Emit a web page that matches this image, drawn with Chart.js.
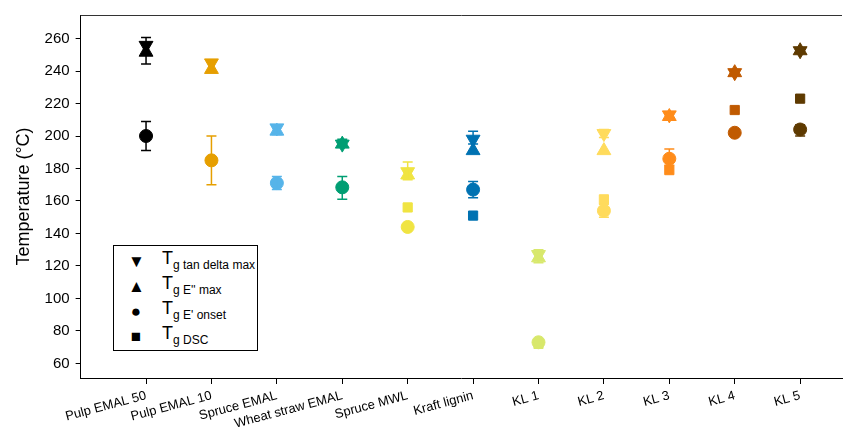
<!DOCTYPE html>
<html><head><meta charset="utf-8">
<script src="https://cdn.jsdelivr.net/npm/chart.js@4"></script>
<style>
body{margin:0;background:#fff;font-family:"Liberation Sans",Arial,sans-serif}
#wrap{position:relative;width:851px;height:429px}
#legend{position:absolute;left:113px;top:245px;width:143px;height:104px;border:1px solid #000;background:#fff;font-size:12px}
#legend div{position:absolute;left:0;height:25px;width:143px}
#legend .m{position:absolute;left:14px;top:4px;width:16px;text-align:center;font-size:17px}
#legend .t{position:absolute;left:48px;top:0;font-size:18px}
#legend sub{font-size:12px}
</style></head>
<body><div id="wrap"><canvas id="c" width="851" height="429"></canvas>
<div id="legend">
<div style="top:2px"><span class="m">▼</span><span class="t">T<sub>g tan delta max</sub></span></div>
<div style="top:27px"><span class="m">▲</span><span class="t">T<sub>g E'' max</sub></span></div>
<div style="top:52px"><span class="m">●</span><span class="t">T<sub>g E' onset</sub></span></div>
<div style="top:77px"><span class="m">■</span><span class="t">T<sub>g DSC</sub></span></div>
</div></div>
<script>
const categories = ["Pulp EMAL 50","Pulp EMAL 10","Spruce EMAL","Wheat straw EMAL","Spruce MWL","Kraft lignin","KL 1","KL 2","KL 3","KL 4","KL 5"];
const colors = ["#000000","#E69F00","#56B4E9","#009E73","#F0E442","#0072B2","#D8E86C","#FFDB5C","#FF8C1A","#C05A00","#5E3A00"];
const tanDelta = [255.8,245,205,195,178,198,127,201.5,213,239,252.5];
const tanDeltaErr = [[244.3,260.6],[240,247],[201,207],[193,198],[173,184],[195,203],[122,130],[199,204],null,null,null];
const eMax = [251.6,241,203,195,176,191,125,191,212,239,252.5];
const eOnset = [200,185,171,168.4,144,167,73,154,186,202,204];
const eOnsetErr = [[191,209],[170,200],[167,175],[161,175],null,[162,172],null,[150,158],[182,192],null,[200,207]];
const dsc = [null,null,null,null,156,151,72,161,179,216,223];
const yTicks = [60,80,100,120,140,160,180,200,220,240,260];

const xs = categories.map((_, i) => i + 1);
const pts = arr => arr.map((v, i) => ({x: xs[i], y: v}));

const errPlugin = {
  id: 'err',
  afterDatasetsDraw(chart) {
    const {ctx, scales: {x, y}} = chart;
    ctx.save(); ctx.lineWidth = 1.5;
    [tanDeltaErr, eOnsetErr].forEach(errs => errs.forEach((e, i) => {
      if (!e) return;
      const px = x.getPixelForValue(xs[i]);
      const a = y.getPixelForValue(e[0]), b = y.getPixelForValue(e[1]);
      ctx.strokeStyle = colors[i];
      ctx.beginPath();
      ctx.moveTo(px, a); ctx.lineTo(px, b);
      ctx.moveTo(px - 5, a); ctx.lineTo(px + 5, a);
      ctx.moveTo(px - 5, b); ctx.lineTo(px + 5, b);
      ctx.stroke();
    }));
    ctx.restore();
  }
};

const ds = (data, style, rot, r) => ({
  data: pts(data), pointStyle: style, rotation: rot, pointRadius: r,
  pointBackgroundColor: colors, pointBorderColor: colors, pointBorderWidth: 1, showLine: false
});

new Chart(document.getElementById('c'), {
  type: 'scatter',
  data: { datasets: [
    ds(dsc, 'rect', 0, 6.5),
    ds(eOnset, 'circle', 0, 6.5),
    ds(eMax, 'triangle', 0, 8),
    ds(tanDelta, 'triangle', 180, 8)
  ]},
  options: {
    responsive: false, animation: false,
    layout: { padding: { top: 10, right: 3, left: 9, bottom: 0 } },
    plugins: { legend: { display: false }, tooltip: { enabled: false } },
    scales: {
      x: {
        type: 'linear', min: 0, max: 11.64,
        afterBuildTicks: s => { s.ticks = xs.map(v => ({value: v})); },
        afterFit: s => { s.height = 51; },
        ticks: { autoSkip: false, callback: v => categories[v - 1], minRotation: 15, maxRotation: 15, color: '#000', font: {size: 13, family: 'Liberation Sans'}, padding: 4 },
        grid: { drawOnChartArea: false, tickLength: 6, color: '#000' },
        border: { color: '#000', width: 1 }
      },
      y: {
        min: 51, max: 274.5,
        afterBuildTicks: s => { const t = []; for (let v = 60; v <= 270; v += 10) t.push({value: v}); s.ticks = t; },
        ticks: { callback: v => yTicks.includes(v) ? v : '', color: '#000', font: {size: 15, family: 'Liberation Sans'}, padding: 6 },
        title: { display: true, text: 'Temperature (°C)', color: '#000', font: {size: 18, family: 'Liberation Sans'} },
        grid: { drawOnChartArea: false, tickLength: 5, color: '#000' },
        border: { color: '#000', width: 1 }
      }
    }
  },
  plugins: [errPlugin, {
    id: 'topline',
    afterDraw(chart) {
      const {ctx, chartArea: a} = chart;
      ctx.save(); ctx.strokeStyle = '#333'; ctx.lineWidth = 1;
      ctx.beginPath(); ctx.moveTo(a.left, a.top + 0.5); ctx.lineTo(a.right, a.top + 0.5); ctx.stroke();
      ctx.restore();
    }
  }]
});
</script></body></html>
